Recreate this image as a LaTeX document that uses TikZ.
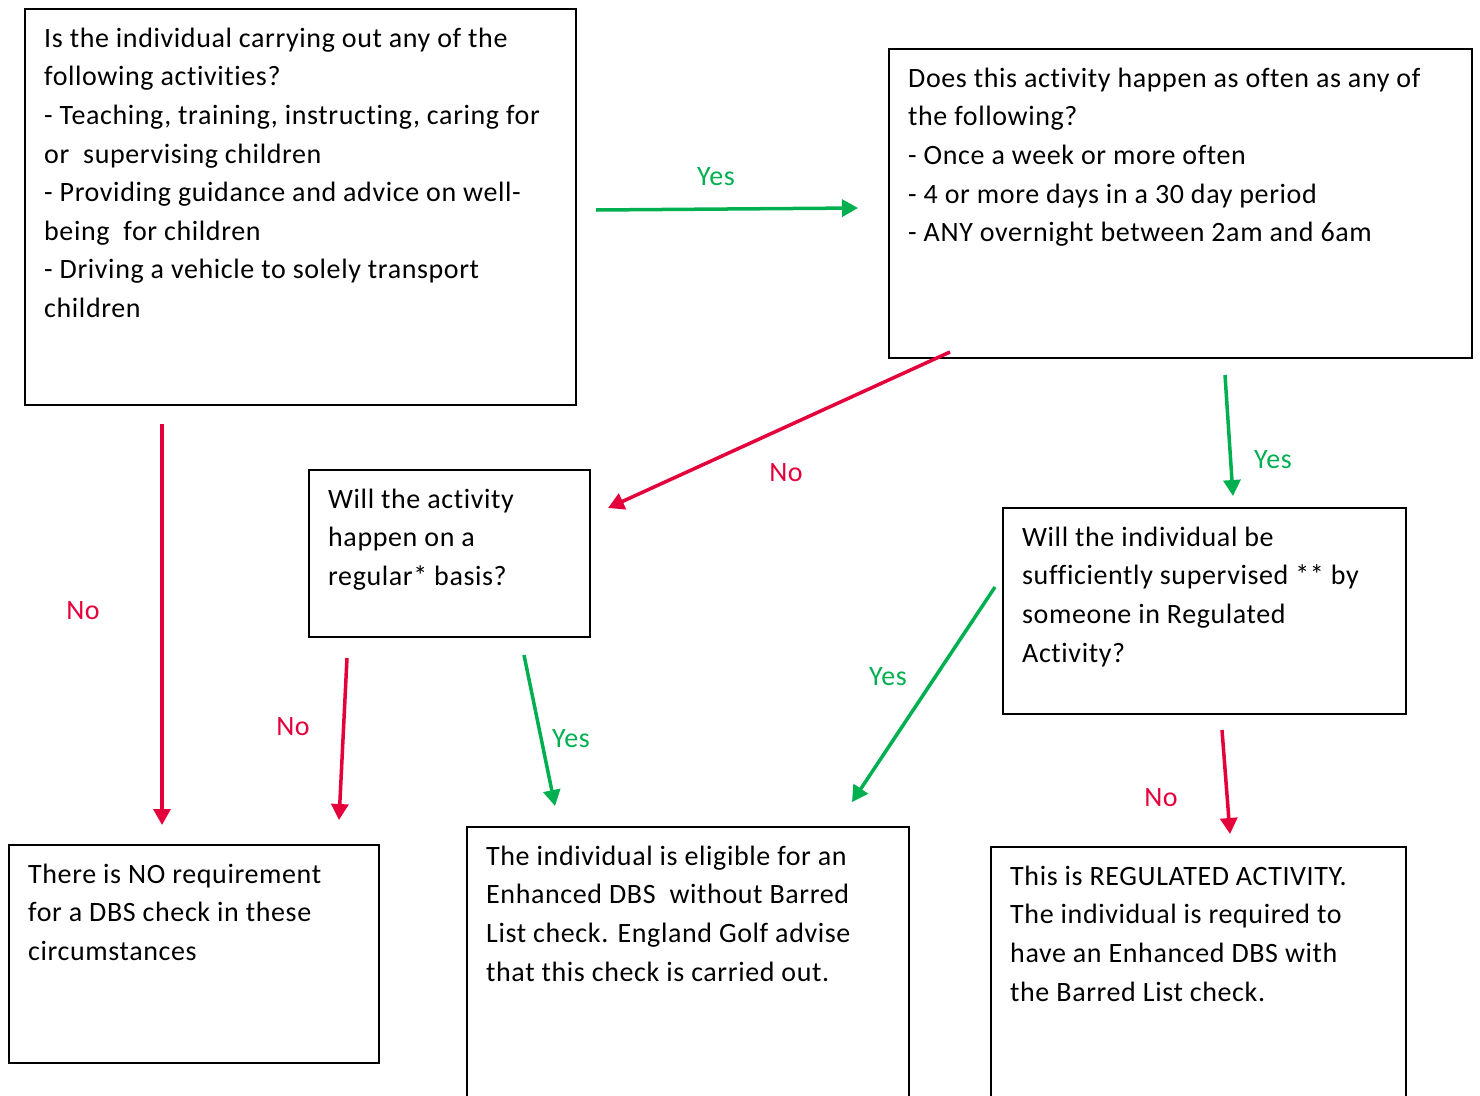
\documentclass[tikz,border=0pt]{standalone}
\usepackage{fontspec}
\setmainfont{Carlito}[Ligatures=NoCommon,LetterSpace=2.2]
\usetikzlibrary{arrows.meta,positioning}

\definecolor{yesgreen}{RGB}{0,176,80}
\definecolor{nored}{RGB}{228,0,58}

\begin{document}
\begin{tikzpicture}[x=1pt,y=-1pt,>={Triangle[length=16pt,width=17pt]}]
\tikzset{
box/.style = {draw, line width=1.8pt, rectangle, anchor=north west, inner sep=0pt},
boxtext/.style = {anchor=north west, align=left, inner sep=0pt, font=\fontsize{28}{38.6}\selectfont},
yesline/.style = {->, draw=yesgreen, line width=3.5pt},
noline/.style = {->, draw=nored, line width=3.5pt},
yeslabel/.style = {text=yesgreen, inner sep=0pt, font=\fontsize{28}{30}\selectfont},
nolabel/.style = {text=nored, inner sep=0pt, font=\fontsize{28}{30}\selectfont}
}
\useasboundingbox (0,0) rectangle (1480,1095);
\clip (0,0) rectangle (1480,1095);

% boxes
\node [box, minimum width=551pt, minimum height=396pt] (activities) at (24,8) {};
\node [box, minimum width=583pt, minimum height=309pt] (frequency) at (888,48) {};
\node [box, minimum width=281pt, minimum height=167pt] (regular) at (308,469) {};
\node [box, minimum width=403pt, minimum height=206pt] (supervised) at (1002,507) {};
\node [box, minimum width=370pt, minimum height=218pt] (norequirement) at (8,844) {};
\node [box, minimum width=442pt, minimum height=300pt] (enhanced) at (466,826) {};
\node [box, minimum width=415pt, minimum height=300pt] (regulated) at (990,846) {};

% texts
\node [boxtext] (activitiestext) at ([shift={(20,12)}]activities.north west)
  {\strut Is the individual carrying out any of the\\
   following activities?\\
   - Teaching, training, instructing, caring for\\
   or\ \ supervising children\\
   - Providing guidance and advice on well-\\
   being\ \ for children\\
   - Driving a vehicle to solely transport\\
   children};
\node [boxtext] (frequencytext) at ([shift={(20,12)}]frequency.north west)
  {\strut Does this activity happen as often as any of\\
   the following?\\
   - Once a week or more often\\
   - 4 or more days in a 30 day period\\
   - ANY overnight between 2am and 6am};
\node [boxtext] (regulartext) at ([shift={(20,12)}]regular.north west)
  {\strut Will the activity\\
   happen on a\\
   regular* basis?};
\node [boxtext] (supervisedtext) at ([shift={(20,12)}]supervised.north west)
  {\strut Will the individual be\\
   sufficiently supervised ** by\\
   someone in Regulated\\
   Activity?};
\node [boxtext] (norequirementtext) at ([shift={(20,12)}]norequirement.north west)
  {\strut There is NO requirement\\
   for a DBS check in these\\
   circumstances};
\node [boxtext] (enhancedtext) at ([shift={(20,12)}]enhanced.north west)
  {\strut The individual is eligible for an\\
   Enhanced DBS\ \ without Barred\\
   List check. England Golf advise\\
   that this check is carried out.};
\node [boxtext] (regulatedtext) at ([shift={(20,12)}]regulated.north west)
  {\strut This is REGULATED ACTIVITY.\\
   The individual is required to\\
   have an Enhanced DBS with\\
   the Barred List check.};

% arrow ends
\coordinate (activitiesyes) at (596,210);
\coordinate (frequencyin) at (858,208);
\coordinate (frequencyno) at (950,352);
\coordinate (regularin) at (608,508);
\coordinate (frequencyyes) at (1225,375);
\coordinate (supervisedin) at (1233,496);
\coordinate (activitiesno) at (162,424);
\coordinate (norequirementin) at (162,825);
\coordinate (regularno) at (347,658);
\coordinate (norequirementin2) at (339,820);
\coordinate (regularyes) at (524,655);
\coordinate (enhancedin) at (555,806);
\coordinate (supervisedyes) at (995,587);
\coordinate (enhancedin2) at (852,802);
\coordinate (supervisedno) at (1222,730);
\coordinate (regulatedin) at (1230,834);

% labels
\node [yeslabel] (yes1) at (716,177) {Yes};
\node [nolabel] (no1) at (786,473) {No};
\node [yeslabel] (yes2) at (1273,460) {Yes};
\node [nolabel] (no2) at (83,611) {No};
\node [nolabel] (no3) at (293,727) {No};
\node [yeslabel] (yes3) at (571,739) {Yes};
\node [yeslabel] (yes4) at (888,677) {Yes};
\node [nolabel] (no4) at (1161,798) {No};

% connectors
\draw [yesline] (activitiesyes) -- (frequencyin);
\draw [noline] (frequencyno) -- (regularin);
\draw [yesline] (frequencyyes) -- (supervisedin);
\draw [noline] (activitiesno) -- (norequirementin);
\draw [noline] (regularno) -- (norequirementin2);
\draw [yesline] (regularyes) -- (enhancedin);
\draw [yesline] (supervisedyes) -- (enhancedin2);
\draw [noline] (supervisedno) -- (regulatedin);
\end{tikzpicture}
\end{document}
